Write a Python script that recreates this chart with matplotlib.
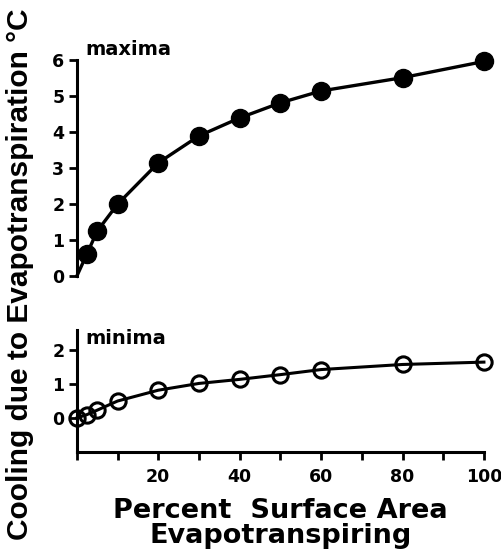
import numpy as np
import matplotlib.pyplot as plt

plt.rcParams['font.family'] = ['DejaVu Sans']
plt.rcParams['font.weight'] = 'bold'

# percent of surface area evapotranspiring
pct = [0, 2.5, 5, 10, 20, 30, 40, 50, 60, 80, 100]
# cooling of daily maxima / minima, deg C
maxima = [0, 0.62, 1.25, 2.0, 3.15, 3.9, 4.4, 4.82, 5.15, 5.52, 5.97]
minima = [0, 0.1, 0.23, 0.5, 0.82, 1.02, 1.14, 1.28, 1.43, 1.58, 1.65]

fig = plt.figure(figsize=(5.02, 5.49), dpi=100)
ax1 = fig.add_axes([0.153, 0.497, 0.811, 0.393])
ax2 = fig.add_axes([0.153, 0.177, 0.811, 0.222])

ax1.plot(pct, maxima, "-o", color="black", lw=2.4, ms=13,
         markevery=list(range(1, len(pct))), clip_on=False)
ax2.plot(pct, minima, "-o", color="black", lw=2.2, ms=11,
         mfc="none", mew=2.2, clip_on=False, zorder=3)

for ax in (ax1, ax2):
    ax.set_xlim(0, 100)
    for s in ("top", "right"):
        ax.spines[s].set_visible(False)
    ax.spines["left"].set_linewidth(2.2)
    ax.tick_params(axis="y", direction="out", length=6, width=2,
                   labelsize=12.5, pad=3)

ax1.set_ylim(0, 6)
ax1.set_yticks(range(0, 7))
ax1.spines["bottom"].set_visible(False)
ax1.set_xticks([])
ax1.text(2, 6.14, "maxima", fontsize=14, fontweight="bold")

ax2.set_ylim(-1, 2.6)
ax2.set_yticks([0, 1, 2])
ax2.spines["left"].set_bounds(-1, 2.6)
ax2.spines["bottom"].set_linewidth(2.2)
ax2.set_xticks([20, 40, 60, 80, 100])
ax2.set_xticks(range(0, 101, 10), minor=True)
ax2.tick_params(axis="x", which="both", direction="out", length=6, width=2,
                labelsize=12.5, pad=6)
ax2.text(2, 2.18, "minima", fontsize=14, fontweight="bold")

ax2.set_xlabel("Percent  Surface Area\nEvapotranspiring", fontsize=19.5,
               fontweight="bold", labelpad=8, linespacing=0.95)
fig.text(0.04, 0.5, "Cooling due to Evapotranspiration °C", rotation=90,
         va="center", ha="center", fontsize=21.5, fontweight="bold",
         family="Liberation Sans")

fig.savefig("out.png", dpi=100)
